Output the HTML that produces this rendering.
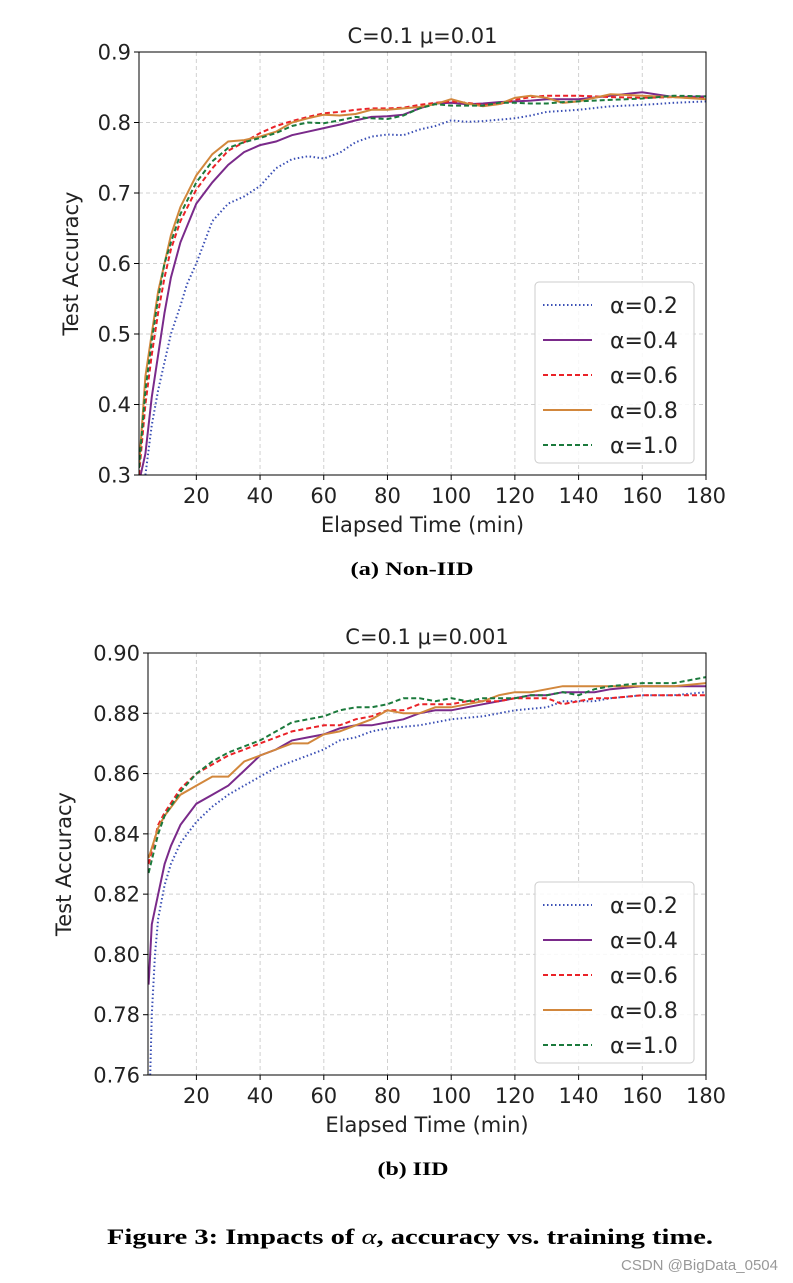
<!DOCTYPE html>
<html><head><meta charset="utf-8"><style>
html,body{margin:0;padding:0;background:#fff;}
svg{display:block;}
</style></head><body>
<svg id="fig" width="793" height="1283" viewBox="0 0 793 1283" xmlns="http://www.w3.org/2000/svg" font-family="DejaVu Sans, Liberation Sans, sans-serif">
<rect width="793" height="1283" fill="#fff"/>
<g id="c1"></g>
<g id="c2"></g>
<text x="412" y="575" text-anchor="middle" font-family="Liberation Serif, serif" font-weight="bold" font-size="19" textLength="123" lengthAdjust="spacingAndGlyphs">(a) Non-IID</text>
<text x="413" y="1175" text-anchor="middle" font-family="Liberation Serif, serif" font-weight="bold" font-size="19" textLength="71" lengthAdjust="spacingAndGlyphs">(b) IID</text>
<text x="410" y="1244" text-anchor="middle" font-family="Liberation Serif, serif" font-weight="bold" font-size="22" textLength="606" lengthAdjust="spacingAndGlyphs">Figure 3: Impacts of <tspan font-style="italic" font-weight="normal">α</tspan>, accuracy vs. training time.</text>
<text x="778" y="1270" text-anchor="end" font-family="Liberation Sans, sans-serif" font-size="15" fill="#999">CSDN @BigData_0504</text>
</svg>
<script>
// ---- Chart 1 data (Non-IID) ----
const labels = ["α=0.2","α=0.4","α=0.6","α=0.8","α=1.0"];
const c1X02 = [4,6,8,10,12,15,17,20,25,30,35,40,45,50,55,60,65,70,75,80,85,90,95,100,105,110,120,125,130,140,150,160,170,180];
const c1Y02 = [0.3,0.37,0.42,0.46,0.5,0.54,0.57,0.6,0.66,0.685,0.695,0.71,0.735,0.748,0.752,0.749,0.757,0.772,0.78,0.783,0.782,0.79,0.795,0.803,0.801,0.802,0.806,0.81,0.815,0.818,0.823,0.825,0.828,0.83];
const c1X = [2,4,6,8,10,12,15,20,25,30,35,40,45,50,55,60,65,70,75,80,85,90,95,100,105,110,115,120,125,130,135,140,150,160,170,180];
const c1Y04 = [0.29,0.33,0.41,0.47,0.53,0.58,0.63,0.685,0.715,0.74,0.758,0.768,0.773,0.782,0.787,0.792,0.797,0.803,0.808,0.809,0.811,0.82,0.827,0.828,0.826,0.827,0.829,0.83,0.831,0.833,0.833,0.833,0.838,0.843,0.836,0.837];
const c1Y06 = [0.3,0.4,0.47,0.53,0.58,0.62,0.66,0.705,0.735,0.76,0.772,0.785,0.795,0.802,0.808,0.813,0.815,0.818,0.82,0.82,0.821,0.825,0.828,0.83,0.828,0.825,0.826,0.832,0.836,0.838,0.838,0.838,0.836,0.835,0.836,0.834];
const c1Y08 = [0.31,0.44,0.5,0.56,0.6,0.64,0.68,0.725,0.755,0.773,0.775,0.78,0.787,0.8,0.806,0.811,0.81,0.812,0.818,0.818,0.82,0.822,0.826,0.833,0.827,0.823,0.826,0.835,0.838,0.835,0.828,0.83,0.84,0.838,0.836,0.833];
const c1Y10 = [0.31,0.42,0.49,0.55,0.6,0.63,0.67,0.715,0.745,0.764,0.772,0.778,0.785,0.795,0.8,0.799,0.803,0.808,0.806,0.805,0.81,0.82,0.826,0.824,0.824,0.824,0.828,0.828,0.827,0.827,0.829,0.83,0.832,0.834,0.838,0.837];
const c1YTicks = [0.3,0.4,0.5,0.6,0.7,0.8,0.9];
const c1YTickLabels = ["0.3","0.4","0.5","0.6","0.7","0.8","0.9"];
// ---- Chart 2 data (IID) ----
const c2X02 = [5.5,6,7,8,10,12,15,20,25,30,35,40,45,50,55,60,65,70,75,80,90,100,110,120,130,135,140,145,150,160,170,180];
const c2Y02 = [0.76,0.78,0.8,0.812,0.823,0.83,0.837,0.844,0.849,0.853,0.856,0.859,0.862,0.864,0.866,0.868,0.871,0.872,0.874,0.875,0.876,0.878,0.879,0.881,0.882,0.884,0.884,0.884,0.885,0.886,0.886,0.887];
const c2X04 = [5,6,8,10,12,15,20,25,30,35,40,45,50,55,60,65,70,75,80,85,90,95,100,110,120,125,130,135,140,145,150,160,170,180];
const c2Y04 = [0.79,0.81,0.82,0.83,0.836,0.843,0.85,0.853,0.856,0.861,0.866,0.868,0.871,0.872,0.873,0.875,0.876,0.876,0.877,0.878,0.88,0.881,0.881,0.883,0.885,0.886,0.886,0.887,0.887,0.887,0.888,0.889,0.889,0.889];
const c2X = [5,8,10,15,20,25,30,35,40,45,50,55,60,65,70,75,80,85,90,95,100,105,110,115,120,125,130,135,140,145,150,160,170,180];
const c2Y06 = [0.83,0.843,0.847,0.855,0.86,0.863,0.866,0.868,0.87,0.872,0.874,0.875,0.876,0.876,0.878,0.879,0.881,0.881,0.883,0.883,0.883,0.884,0.884,0.884,0.885,0.885,0.885,0.883,0.884,0.885,0.885,0.886,0.886,0.886];
const c2Y08 = [0.832,0.842,0.846,0.853,0.856,0.859,0.859,0.864,0.866,0.868,0.87,0.87,0.873,0.874,0.876,0.878,0.881,0.88,0.88,0.882,0.882,0.883,0.884,0.886,0.887,0.887,0.888,0.889,0.889,0.889,0.889,0.889,0.889,0.89];
const c2Y10 = [0.827,0.84,0.846,0.854,0.86,0.864,0.867,0.869,0.871,0.874,0.877,0.878,0.879,0.881,0.882,0.882,0.883,0.885,0.885,0.884,0.885,0.884,0.885,0.885,0.885,0.886,0.886,0.887,0.886,0.888,0.889,0.89,0.89,0.892];
const c2YTicks = [0.76,0.78,0.80,0.82,0.84,0.86,0.88,0.90];
const c2YTickLabels = ["0.76","0.78","0.80","0.82","0.84","0.86","0.88","0.90"];
const xTicks = [20,40,60,80,100,120,140,160,180];
const xTickLabels = ["20","40","60","80","100","120","140","160","180"];

const NS = "http://www.w3.org/2000/svg";
const colors = ["#3a4fb5","#7a2a8a","#ea2228","#d2873c","#1b7a3c"];
const dashes = ["1.5,2.5","","5,3","","5,3"];
function mk(tag, attrs, parent){
  const e = document.createElementNS(NS, tag);
  for (const k in attrs) e.setAttribute(k, attrs[k]);
  parent.appendChild(e); return e;
}
function draw(g, cfg){
  const {L,R,T,B,xmin,xmax,ymin,ymax} = cfg;
  const sx = v => L + (v - xmin) / (xmax - xmin) * (R - L);
  const sy = v => B - (v - ymin) / (ymax - ymin) * (B - T);
  const id = g.id + "clip";
  const cp = mk("clipPath", {id:id}, g);
  mk("rect", {x:L, y:T, width:R-L, height:B-T}, cp);
  cfg.yTicks.forEach((t,i) => {
    const ln = mk("line", {x1:L, x2:R, y1:sy(t), y2:sy(t), stroke:"#d0d0d0", "stroke-width":1, "stroke-dasharray":"4,3"}, g);
    
    
    const tk = mk("line", {x1:L-5, x2:L, y1:sy(t), y2:sy(t), stroke:"#000", "stroke-width":1}, g);
    
    
    const tx = mk("text", {x:L-8, y:sy(t)+7.5, "text-anchor":"end", "font-size":"21", fill:"#222"}, g);
    tx.textContent = cfg.yLabels[i];
    
    
  });
  xTicks.forEach((t,i) => {
    const ln = mk("line", {x1:sx(t), x2:sx(t), y1:T, y2:B, stroke:"#d0d0d0", "stroke-width":1, "stroke-dasharray":"4,3"}, g);
    
    
    const tk = mk("line", {x1:sx(t), x2:sx(t), y1:B, y2:B+5, stroke:"#000", "stroke-width":1}, g);
    
    
    const tx = mk("text", {x:sx(t), y:B+28, "text-anchor":"middle", "font-size":"21", fill:"#222"}, g);
    tx.textContent = xTickLabels[i];
    
    
  });
  cfg.series.forEach((s,i) => {
    const d = s.x.map((xv,j) => (j?"L":"M") + sx(xv).toFixed(1) + "," + sy(s.y[j]).toFixed(1)).join(" ");
    const p = mk("path", {d:d, fill:"none", stroke:colors[i], "stroke-width":2, "clip-path":"url(#"+id+")"}, g);
    if (dashes[i]) p.setAttribute("stroke-dasharray", dashes[i]);
    
    
  });
  const fr = mk("rect", {x:L, y:T, width:R-L, height:B-T, fill:"none", stroke:"#000", "stroke-width":1}, g);
  
  
  const ti = mk("text", {x:(L+R)/2, y:T-9, "text-anchor":"middle", "font-size":"21", fill:"#222"}, g);
  ti.textContent = cfg.title;
  
  
  const xl = mk("text", {x:(L+R)/2, y:B+57, "text-anchor":"middle", "font-size":"21", fill:"#222"}, g);
  xl.textContent = "Elapsed Time (min)";
  
  
  const yl = mk("text", {x:0, y:0, "text-anchor":"middle", "font-size":"21", fill:"#222", transform:"translate("+cfg.ylx+","+((T+B)/2)+") rotate(-90)"}, g);
  yl.textContent = "Test Accuracy";
  
  
  const lg = mk("g", {}, g);
  
  
  mk("rect", {x:cfg.lx, y:cfg.ly, width:159, height:181, rx:4, fill:"#fff", "fill-opacity":0.85, stroke:"#ccc", "stroke-width":1}, lg);
  labels.forEach((lb,i) => {
    const yy = cfg.ly + 23 + i*35;
    const ln = mk("line", {x1:cfg.lx+8, x2:cfg.lx+57, y1:yy, y2:yy, stroke:colors[i], "stroke-width":2}, lg);
    if (dashes[i]) ln.setAttribute("stroke-dasharray", dashes[i]);
    
    
    const t = mk("text", {x:cfg.lx+75, y:yy+8, "font-size":"22", fill:"#222"}, lg);
    t.textContent = lb;
    
    
  });
}
draw(document.getElementById("c1"), {
  L:139, R:706, T:52, B:475, xmin:2, xmax:180, ymin:0.3, ymax:0.9,
  yTicks:c1YTicks, yLabels:c1YTickLabels, title:"C=0.1 μ=0.01", ylx:78, lx:535, ly:282,
  series:[{x:c1X02,y:c1Y02},{x:c1X,y:c1Y04},{x:c1X,y:c1Y06},{x:c1X,y:c1Y08},{x:c1X,y:c1Y10}]
});
draw(document.getElementById("c2"), {
  L:148, R:706, T:653, B:1075, xmin:4.8, xmax:180, ymin:0.76, ymax:0.90,
  yTicks:c2YTicks, yLabels:c2YTickLabels, title:"C=0.1 μ=0.001", ylx:71, lx:535, ly:882,
  series:[{x:c2X02,y:c2Y02},{x:c2X04,y:c2Y04},{x:c2X,y:c2Y06},{x:c2X,y:c2Y08},{x:c2X,y:c2Y10}]
});
</script>
</body></html>
